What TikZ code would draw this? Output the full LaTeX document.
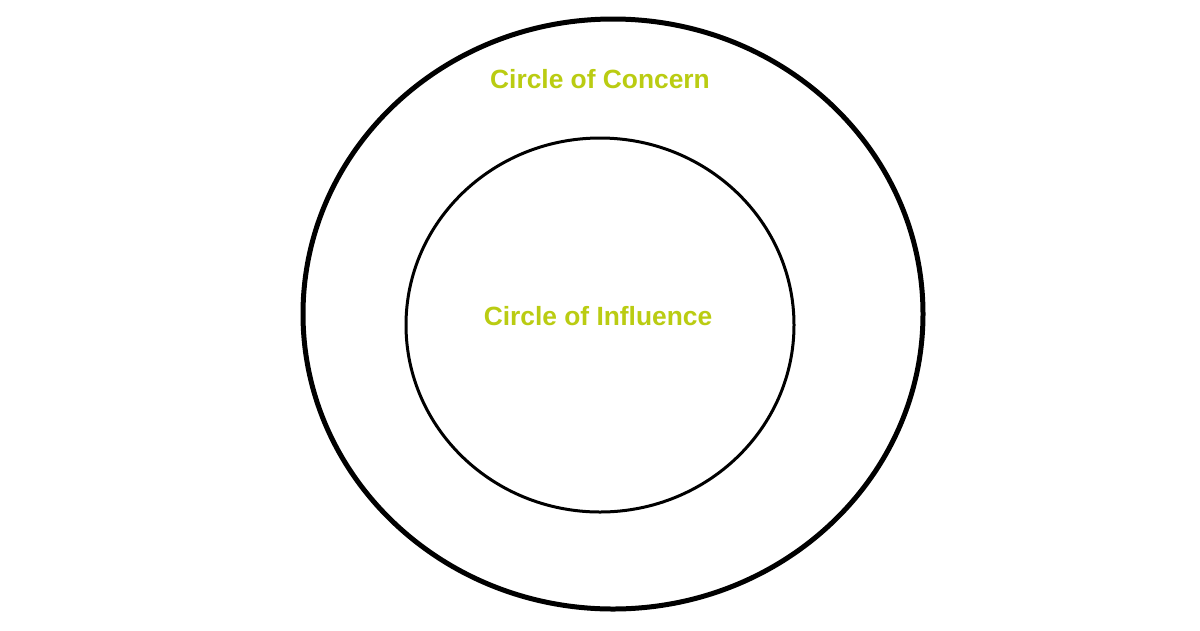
\documentclass[tikz,border=0pt]{standalone}
\usepackage{fontspec}
\setmainfont{Liberation Sans}
\definecolor{limegreen}{RGB}{186,204,18}
\tikzset{
  label text/.style={font=\bfseries\fontsize{15}{17}\selectfont, text=limegreen},
  ring/.style={draw=black, line cap=round}
}
\begin{document}
\begin{tikzpicture}[x=0.02cm,y=-0.02cm]
\useasboundingbox (0,0) rectangle (1200,630);
\fill[white] (0,0) rectangle (1200,630);

\draw[ring, line width=1mm] (613,314) ellipse [x radius=310, y radius=295];
\draw[ring, line width=0.6mm] (600,325) ellipse [x radius=194, y radius=187];

\node[label text] (concern) at (600,79) {Circle of Concern};
\node[label text] (influence) at (598,316) {Circle of Influence};
\end{tikzpicture}
\end{document}
